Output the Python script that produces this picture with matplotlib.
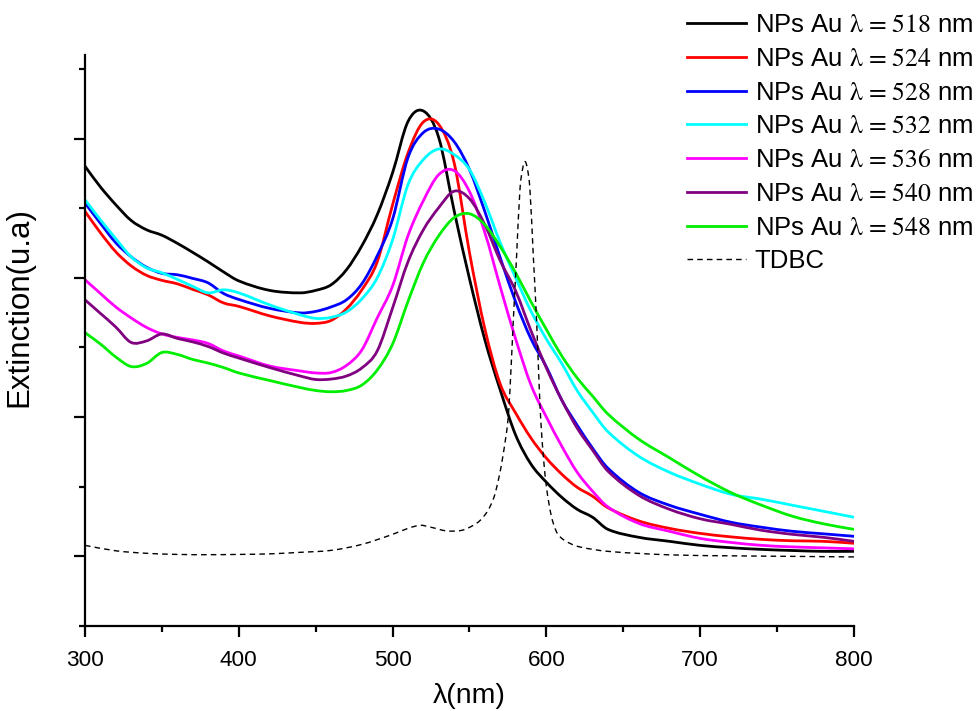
import numpy as np
import matplotlib
matplotlib.use("Agg")
import matplotlib.pyplot as plt
from matplotlib.ticker import MultipleLocator, NullFormatter
from matplotlib.path import Path
from matplotlib.patches import PathPatch
from matplotlib.lines import Line2D

plt.rcParams['font.family'] = ['Liberation Sans', 'DejaVu Sans']
plt.rcParams['mathtext.fontset'] = 'stix'

# ---------------- data (wavelength in nm, extinction in a.u.) ----------------
wl = [300, 310, 320, 330, 340, 350, 360, 370, 380, 390, 400, 420, 440, 450, 460,
      470, 480, 490, 500, 510, 520, 530, 540, 550, 560, 570, 580, 590, 600, 610,
      620, 630, 640, 660, 680, 700, 720, 740, 760, 780, 800]

ext_518 = [2.801, 2.653, 2.525, 2.412, 2.345, 2.306, 2.248, 2.183, 2.115, 2.043, 1.978,
           1.910, 1.892, 1.910, 1.950, 2.058, 2.230, 2.453, 2.755, 3.122, 3.198, 3.007,
           2.482, 1.993, 1.554, 1.194, 0.871, 0.662, 0.532, 0.424, 0.338, 0.281, 0.194,
           0.137, 0.108, 0.079, 0.062, 0.050, 0.042, 0.036, 0.036]
ext_524 = [2.477, 2.324, 2.187, 2.086, 2.018, 1.982, 1.957, 1.917, 1.878, 1.820, 1.795,
           1.727, 1.680, 1.673, 1.694, 1.777, 1.914, 2.115, 2.525, 2.896, 3.119, 3.101,
           2.827, 2.180, 1.633, 1.237, 1.029, 0.849, 0.705, 0.590, 0.496, 0.432, 0.349,
           0.255, 0.201, 0.165, 0.140, 0.122, 0.112, 0.108, 0.094]
ext_528 = [2.537, 2.392, 2.252, 2.151, 2.076, 2.032, 2.022, 1.996, 1.964, 1.888, 1.845,
           1.781, 1.748, 1.759, 1.791, 1.842, 1.957, 2.158, 2.421, 2.863, 3.043, 3.068,
           2.978, 2.777, 2.475, 2.144, 1.827, 1.561, 1.360, 1.122, 0.942, 0.777, 0.633,
           0.460, 0.367, 0.302, 0.245, 0.209, 0.180, 0.162, 0.144]
ext_532 = [2.561, 2.417, 2.281, 2.151, 2.072, 2.036, 1.989, 1.939, 1.892, 1.914, 1.892,
           1.806, 1.734, 1.709, 1.716, 1.755, 1.849, 2.000, 2.273, 2.669, 2.849, 2.925,
           2.885, 2.777, 2.540, 2.252, 2.000, 1.760, 1.560, 1.385, 1.190, 1.036, 0.895,
           0.719, 0.604, 0.518, 0.446, 0.410, 0.367, 0.324, 0.281]
ext_536 = [1.986, 1.888, 1.791, 1.712, 1.644, 1.597, 1.572, 1.554, 1.529, 1.475, 1.439,
           1.367, 1.331, 1.317, 1.320, 1.371, 1.482, 1.712, 1.942, 2.302, 2.554, 2.741,
           2.770, 2.619, 2.324, 1.935, 1.561, 1.230, 1.000, 0.791, 0.604, 0.468, 0.355,
           0.237, 0.180, 0.129, 0.100, 0.079, 0.068, 0.061, 0.054]
ext_540 = [1.842, 1.745, 1.647, 1.536, 1.547, 1.597, 1.565, 1.540, 1.507, 1.460, 1.424,
           1.356, 1.295, 1.270, 1.273, 1.295, 1.353, 1.475, 1.784, 2.115, 2.345, 2.504,
           2.622, 2.568, 2.381, 2.122, 1.906, 1.619, 1.353, 1.122, 0.921, 0.763, 0.612,
           0.439, 0.338, 0.270, 0.230, 0.187, 0.158, 0.137, 0.108]
ext_548 = [1.606, 1.525, 1.432, 1.363, 1.385, 1.464, 1.450, 1.414, 1.388, 1.356, 1.317,
           1.263, 1.212, 1.191, 1.182, 1.191, 1.230, 1.338, 1.525, 1.830, 2.108, 2.302,
           2.432, 2.460, 2.381, 2.223, 2.036, 1.827, 1.629, 1.439, 1.281, 1.151, 1.022,
           0.842, 0.708, 0.575, 0.458, 0.367, 0.288, 0.234, 0.194]

wl_tdbc = [300, 320, 340, 360, 380, 400, 420, 440, 460, 480, 500, 510, 518, 525, 535,
           545, 552, 557, 562, 566, 569, 572, 575, 576.3, 578.4, 580.6, 582.8, 584.5,
           586.1, 587.7, 589.3, 591.5, 593.7, 595.4, 596.5, 598, 600, 603, 606, 609,
           615, 622, 640, 680, 720, 760, 800]
ext_tdbc = [0.079, 0.040, 0.022, 0.014, 0.012, 0.014, 0.018, 0.029, 0.043, 0.086, 0.158,
            0.201, 0.223, 0.209, 0.183, 0.187, 0.220, 0.259, 0.330, 0.427, 0.560, 0.739,
            0.978, 1.194, 1.674, 2.153, 2.633, 2.780, 2.835, 2.780, 2.633, 2.153, 1.674,
            1.194, 0.950, 0.720, 0.499, 0.300, 0.190, 0.139, 0.095, 0.067, 0.036, 0.011,
            0.004, 0.000, -0.004]

peaks = ["518", "524", "528", "532", "536", "540", "548"]
labels = [r"NPs Au $\mathrm{\lambda}\hspace{0.12}=\hspace{0.12}%s$ nm" % s for s in peaks]
colors = ["#000000", "#ff0000", "#0000ff", "#00ffff", "#ff00ff", "#800080", "#00ee00"]
series = [ext_518, ext_524, ext_528, ext_532, ext_536, ext_540, ext_548]


def smooth_path(x, y):
    """Cubic Hermite (spline-connected) path through the data points."""
    x = np.asarray(x, float)
    y = np.asarray(y, float)
    n = len(x)
    m = np.empty(n)
    m[1:-1] = (y[2:] - y[:-2]) / (x[2:] - x[:-2])
    m[0] = (y[1] - y[0]) / (x[1] - x[0])
    m[-1] = (y[-1] - y[-2]) / (x[-1] - x[-2])
    verts = [(x[0], y[0])]
    codes = [Path.MOVETO]
    for i in range(n - 1):
        h = x[i + 1] - x[i]
        verts += [(x[i] + h / 3, y[i] + m[i] * h / 3),
                  (x[i + 1] - h / 3, y[i + 1] - m[i + 1] * h / 3),
                  (x[i + 1], y[i + 1])]
        codes += [Path.CURVE4] * 3
    return Path(verts, codes)


# ---------------- figure ----------------
fig = plt.figure(figsize=(9.79, 7.11), dpi=100)
ax = fig.add_axes([85/979, 1 - 626/711, 769/979, 571/711])

handles = []
for ys, c, lab in zip(series, colors, labels):
    ax.add_patch(PathPatch(smooth_path(wl, ys), fill=False, edgecolor=c, lw=2.0,
                           capstyle='round', joinstyle='round'))
    handles.append(Line2D([], [], color=c, lw=2.0, label=lab))
ax.add_patch(PathPatch(smooth_path(wl_tdbc, ext_tdbc), fill=False, edgecolor='black',
                       lw=1.0, ls=(0, (4, 3))))
handles.append(Line2D([], [], color='black', lw=1.0, ls=(0, (4, 3)), label="TDBC"))

ax.set_xlim(300, 800)
ax.set_ylim(-0.5, 3.6)
ax.xaxis.set_major_locator(MultipleLocator(100))
ax.xaxis.set_minor_locator(MultipleLocator(50))
ax.yaxis.set_major_locator(MultipleLocator(1))
ax.yaxis.set_minor_locator(MultipleLocator(0.5))
ax.yaxis.set_major_formatter(NullFormatter())

for s in ['top', 'right']:
    ax.spines[s].set_visible(False)
for s in ['left', 'bottom']:
    ax.spines[s].set_linewidth(1.6)

ax.tick_params(which='major', direction='out', length=8, width=1.6, labelsize=16.2, pad=9)
ax.tick_params(which='minor', direction='out', length=4, width=1.6)

ax.set_xlabel("λ(nm)", fontsize=20.5)
ax.set_ylabel("Extinction(u.a)", fontsize=22.5)
ax.xaxis.set_label_coords(0.5, -0.1)
ax.yaxis.set_label_coords(-0.066, 0.558)

leg = fig.legend(handles=handles, loc='upper left', bbox_to_anchor=(687/979, 1 - 13/711),
                 frameon=False, fontsize=18.5, handlelength=2.28, handletextpad=0.35,
                 labelspacing=0.38, borderpad=0, borderaxespad=0)

fig.savefig("out.png", dpi=100)
